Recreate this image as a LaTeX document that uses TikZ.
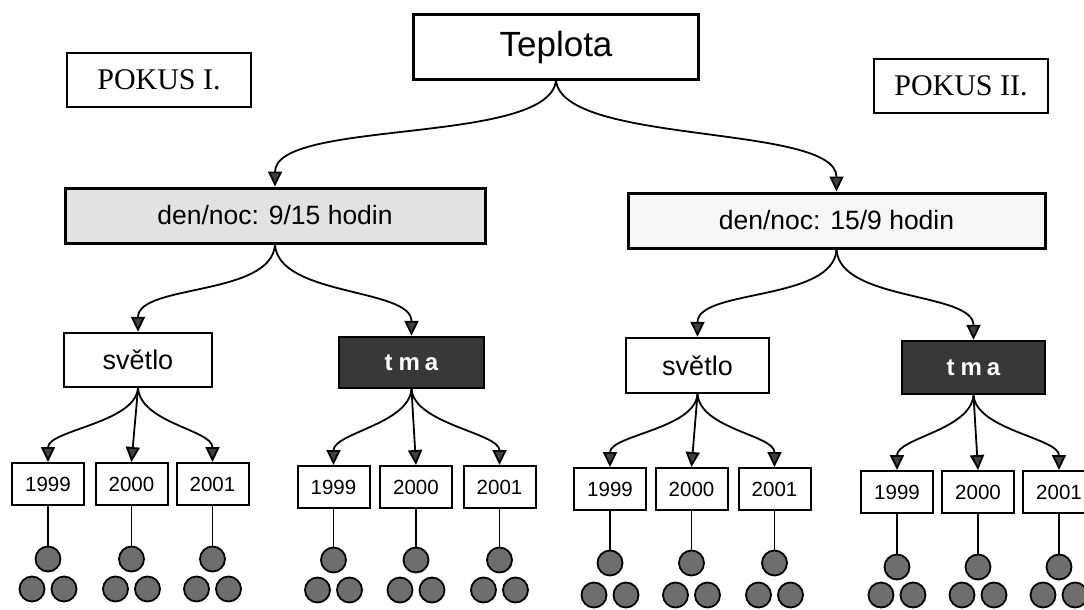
\documentclass[tikz,border=0pt]{standalone}
\usepackage{fontspec}
\setmainfont{Liberation Sans}
\newfontfamily\pokusfont{Liberation Serif}
\usetikzlibrary{arrows.meta}
\definecolor{lightfill}{HTML}{E2E2E2}
\definecolor{paler}{HTML}{F6F6F6}
\definecolor{darkfill}{HTML}{383838}
\definecolor{ballfill}{HTML}{6E6E6E}
\begin{document}
\begin{tikzpicture}[x=1pt,y=-1pt,
  box/.style={draw, line width=3pt, inner sep=0pt},
  midbox/.style={draw, line width=2.4pt, inner sep=0pt, font=\fontsize{27}{27}\selectfont},
  tmabox/.style={draw, line width=2.4pt, inner sep=0pt, fill=darkfill, text=white, font=\fontsize{24}{24}\selectfont\bfseries},
  ybox/.style={draw, line width=2pt, minimum width=72pt, minimum height=42pt, inner sep=0pt, font=\fontsize{20.5}{20.5}\selectfont},
  conn/.style={line width=1.8pt, -{Triangle[length=15pt,width=14pt,fill=black!75]}},
  leg/.style={line width=1.8pt},
  ball/.style={circle, draw, line width=1.8pt, fill=ballfill, minimum size=25pt, inner sep=0pt},
]
\useasboundingbox (0,0) rectangle (1084,610);

% top level
\node[box, minimum width=285pt, minimum height=64pt, font=\fontsize{35}{35}\selectfont] (tep) at (556,47) {Teplota};
\node[box, line width=2.4pt, minimum width=184pt, minimum height=54pt, font=\pokusfont\fontsize{30}{30}\selectfont] (p1) at (159,80) {POKUS I.};
\node[box, line width=2.4pt, minimum width=174pt, minimum height=54pt, font=\pokusfont\fontsize{30}{30}\selectfont] (p2) at (961,86) {POKUS II.};

% day/night
\node[box, fill=lightfill, minimum width=420pt, minimum height=55pt, font=\fontsize{26.5}{26.5}\selectfont] (dl) at (275,215.5) {den/noc: 9/15 hodin};
\node[box, fill=paler, minimum width=417pt, minimum height=55pt, font=\fontsize{26.5}{26.5}\selectfont] (dr) at (836.5,220.5) {den/noc: 15/9 hodin};

% light/dark
\node[midbox, minimum width=148pt, minimum height=54pt] (sl) at (138,360) {světlo};
\node[tmabox, minimum width=145pt, minimum height=51pt] (tl) at (411.5,362.5) {t\hspace{6pt}m\hspace{5pt}a};
\node[midbox, minimum width=143pt, minimum height=55pt] (sr) at (697.5,365.5) {světlo};
\node[tmabox, minimum width=143pt, minimum height=53pt] (tr) at (973.5,367.5) {t\hspace{6pt}m\hspace{5pt}a};

% connectors top
\draw[conn] (tep.south) .. controls +(-7,65) and +(0,-68) .. (dl.north);
\draw[conn] (tep.south) .. controls +(7,65) and +(0,-68) .. (dr.north);
\draw[conn] (dl.south) .. controls +(-3,52) and +(0,-48) .. (sl.north);
\draw[conn] (dl.south) .. controls +(3,52) and +(0,-48) .. (tl.north);
\draw[conn] (dr.south) .. controls +(-3,52) and +(0,-48) .. (sr.north);
\draw[conn] (dr.south) .. controls +(3,52) and +(0,-48) .. (tr.north);

% year groups
\foreach \g/\pn/\ya/\yt/\yb/\xa/\xb/\xc in {
  a/sl/484/559/589/48/131.5/212.5,
  b/tl/487/560/590/333.5/416/499.5,
  c/sr/489/563/595/610/691.5/774.5,
  d/tr/492/567/595/897/978/1059}{
  \node[ybox] (\g1) at (\xa,\ya) {1999};
  \node[ybox] (\g2) at (\xb,\ya) {2000};
  \node[ybox] (\g3) at (\xc,\ya) {2001};
  \draw[conn] (\pn.south) .. controls +(-3,35) and +(0,-32) .. (\g1.north);
  \draw[conn] (\pn.south) -- (\g2.north);
  \draw[conn] (\pn.south) .. controls +(3,35) and +(0,-32) .. (\g3.north);
  \foreach \i/\x in {1/\xa,2/\xb,3/\xc}{
    \node[ball] (\g\i t) at (\x,\yt) {};
    \node[ball] (\g\i l) at (\x-16,\yb) {};
    \node[ball] (\g\i r) at (\x+16,\yb) {};
    \draw[leg] (\g\i.south) -- (\g\i t.north);
  }
}
\end{tikzpicture}
\end{document}
